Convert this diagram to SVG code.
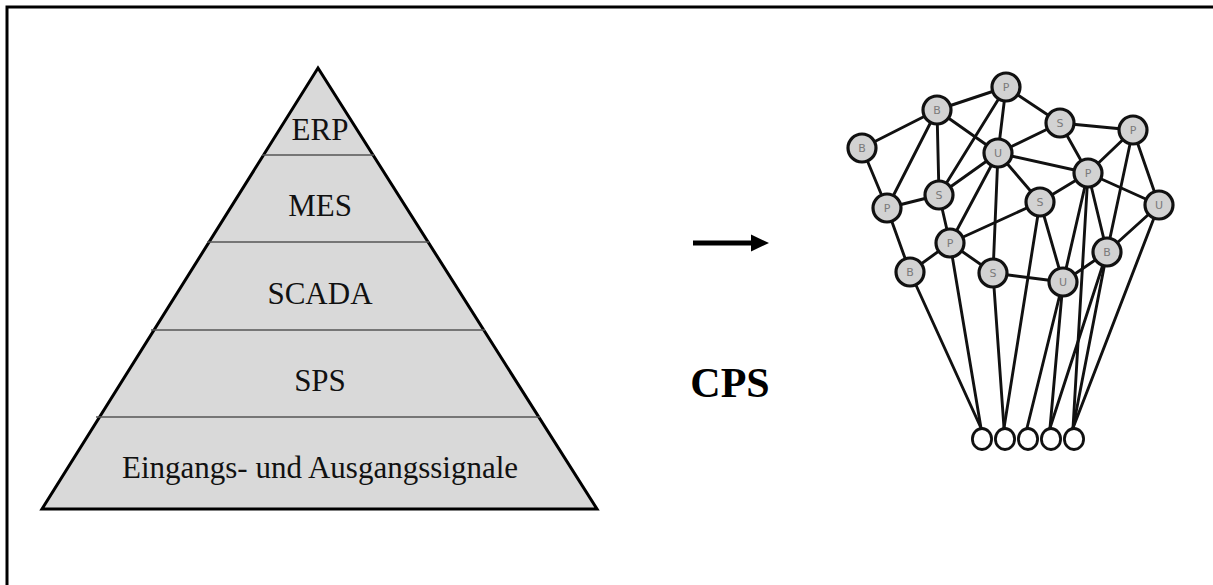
<svg xmlns="http://www.w3.org/2000/svg" width="1213" height="585" viewBox="0 0 1213 585">
  <style>
    .frame { stroke: #000; stroke-width: 3; fill: none; }
    .pyr { fill: #d9d9d9; stroke: #000; stroke-width: 3; stroke-linejoin: miter; }
    .sep { stroke: #555; stroke-width: 1.6; }
    .lvl { font-family: "Liberation Serif", "Times New Roman", serif; font-size: 31px; fill: #111; text-anchor: middle; }
    .cps { font-family: "Liberation Serif", "Times New Roman", serif; font-size: 42px; font-weight: bold; fill: #000; text-anchor: middle; }
    .edge { stroke: #111; stroke-width: 2.9; fill: none; stroke-linecap: round; }
    .node circle { fill: #d2d2d2; stroke: #111; stroke-width: 3.2; }
    .node text { font-family: "DejaVu Sans", "Liberation Sans", sans-serif; font-size: 11px; fill: #7a7a7a; text-anchor: middle; dominant-baseline: central; }
    .io ellipse { fill: #fff; stroke: #111; stroke-width: 2.8; }
  </style>

  <!-- page frame (top and left edges) -->
  <path class="frame" d="M7,585 V7 H1213"/>

  <!-- automation pyramid -->
  <g id="pyramid">
    <polygon class="pyr" points="318,68 597,509 42,509"/>
    <line class="sep" x1="262" y1="155" x2="374" y2="155"/>
    <line class="sep" x1="207" y1="242" x2="429" y2="242"/>
    <line class="sep" x1="151" y1="330" x2="485" y2="330"/>
    <line class="sep" x1="96" y1="417" x2="540" y2="417"/>
    <text id="erp" class="lvl" x="320" y="140">ERP</text>
    <text id="mes" class="lvl" x="320" y="216">MES</text>
    <text id="scada" class="lvl" x="320" y="304">SCADA</text>
    <text id="sps" class="lvl" x="320" y="391">SPS</text>
    <text id="io-signals" class="lvl" x="320" y="478">Eingangs- und Ausgangssignale</text>
  </g>

  <!-- transition arrow and label -->
  <g id="transition">
    <line x1="693" y1="243" x2="755" y2="243" stroke="#000" stroke-width="5"/>
    <polygon points="751,234.5 769,243 751,251.5" fill="#000"/>
    <text class="cps" x="730" y="397">CPS</text>
  </g>

  <!-- network connectors -->
  <g id="connectors">
    <!-- upper mesh -->
    <line class="edge" x1="862" y1="148" x2="937" y2="110"/>
    <line class="edge" x1="937" y1="110" x2="1006" y2="87"/>
    <line class="edge" x1="937" y1="110" x2="998" y2="153"/>
    <line class="edge" x1="937" y1="110" x2="939" y2="195"/>
    <line class="edge" x1="937" y1="110" x2="887" y2="208"/>
    <line class="edge" x1="862" y1="148" x2="887" y2="208"/>
    <line class="edge" x1="1006" y1="87" x2="939" y2="195"/>
    <line class="edge" x1="1006" y1="87" x2="998" y2="153"/>
    <line class="edge" x1="1006" y1="87" x2="1060" y2="123"/>
    <line class="edge" x1="1060" y1="123" x2="1133" y2="130"/>
    <line class="edge" x1="1060" y1="123" x2="998" y2="153"/>
    <line class="edge" x1="1060" y1="123" x2="1088" y2="173"/>
    <line class="edge" x1="998" y1="153" x2="1088" y2="173"/>
    <line class="edge" x1="998" y1="153" x2="939" y2="195"/>
    <line class="edge" x1="998" y1="153" x2="1040" y2="202"/>
    <line class="edge" x1="998" y1="153" x2="950" y2="243"/>
    <line class="edge" x1="998" y1="153" x2="993" y2="273"/>
    <line class="edge" x1="1133" y1="130" x2="1088" y2="173"/>
    <line class="edge" x1="1133" y1="130" x2="1107" y2="252"/>
    <line class="edge" x1="1133" y1="130" x2="1159" y2="205"/>
    <line class="edge" x1="1088" y1="173" x2="1159" y2="205"/>
    <line class="edge" x1="1088" y1="173" x2="1040" y2="202"/>
    <line class="edge" x1="1088" y1="173" x2="1107" y2="252"/>
    <line class="edge" x1="1088" y1="173" x2="1063" y2="282"/>
    <!-- middle mesh -->
    <line class="edge" x1="887" y1="208" x2="939" y2="195"/>
    <line class="edge" x1="887" y1="208" x2="910" y2="272"/>
    <line class="edge" x1="939" y1="195" x2="950" y2="243"/>
    <line class="edge" x1="950" y1="243" x2="910" y2="272"/>
    <line class="edge" x1="950" y1="243" x2="993" y2="273"/>
    <line class="edge" x1="950" y1="243" x2="1040" y2="202"/>
    <line class="edge" x1="1040" y1="202" x2="1063" y2="282"/>
    <line class="edge" x1="993" y1="273" x2="1063" y2="282"/>
    <line class="edge" x1="1063" y1="282" x2="1107" y2="252"/>
    <line class="edge" x1="1159" y1="205" x2="1107" y2="252"/>
    <!-- links down to the field devices -->
    <line class="edge" x1="910" y1="272" x2="981" y2="428"/>
    <line class="edge" x1="950" y1="243" x2="981" y2="428"/>
    <line class="edge" x1="993" y1="273" x2="1004" y2="428"/>
    <line class="edge" x1="1040" y1="202" x2="1004" y2="428"/>
    <line class="edge" x1="1063" y1="282" x2="1027" y2="428"/>
    <line class="edge" x1="1063" y1="282" x2="1050" y2="428"/>
    <line class="edge" x1="1107" y1="252" x2="1050" y2="428"/>
    <line class="edge" x1="1088" y1="173" x2="1073" y2="428"/>
    <line class="edge" x1="1107" y1="252" x2="1073" y2="428"/>
    <line class="edge" x1="1159" y1="205" x2="1073" y2="428"/>
  </g>

  <!-- network nodes -->
  <g id="n-p1" class="node"><circle cx="1006" cy="87" r="14"/><text x="1006" y="87">P</text></g>
  <g id="n-b1" class="node"><circle cx="937" cy="110" r="14"/><text x="937" y="110">B</text></g>
  <g id="n-b2" class="node"><circle cx="862" cy="148" r="14"/><text x="862" y="148">B</text></g>
  <g id="n-s1" class="node"><circle cx="1060" cy="123" r="14"/><text x="1060" y="123">S</text></g>
  <g id="n-p2" class="node"><circle cx="1133" cy="130" r="14"/><text x="1133" y="130">P</text></g>
  <g id="n-u1" class="node"><circle cx="998" cy="153" r="14"/><text x="998" y="153">U</text></g>
  <g id="n-p3" class="node"><circle cx="1088" cy="173" r="14"/><text x="1088" y="173">P</text></g>
  <g id="n-s2" class="node"><circle cx="939" cy="195" r="14"/><text x="939" y="195">S</text></g>
  <g id="n-p4" class="node"><circle cx="887" cy="208" r="14"/><text x="887" y="208">P</text></g>
  <g id="n-s3" class="node"><circle cx="1040" cy="202" r="14"/><text x="1040" y="202">S</text></g>
  <g id="n-u2" class="node"><circle cx="1159" cy="205" r="14"/><text x="1159" y="205">U</text></g>
  <g id="n-p5" class="node"><circle cx="950" cy="243" r="14"/><text x="950" y="243">P</text></g>
  <g id="n-b3" class="node"><circle cx="1107" cy="252" r="14"/><text x="1107" y="252">B</text></g>
  <g id="n-b4" class="node"><circle cx="910" cy="272" r="14"/><text x="910" y="272">B</text></g>
  <g id="n-s4" class="node"><circle cx="993" cy="273" r="14"/><text x="993" y="273">S</text></g>
  <g id="n-u3" class="node"><circle cx="1063" cy="282" r="14"/><text x="1063" y="282">U</text></g>

  <!-- field devices -->
  <g id="io-1" class="io"><ellipse cx="982" cy="439" rx="9.6" ry="10.5"/></g>
  <g id="io-2" class="io"><ellipse cx="1005" cy="439" rx="9.6" ry="10.5"/></g>
  <g id="io-3" class="io"><ellipse cx="1028" cy="439" rx="9.6" ry="10.5"/></g>
  <g id="io-4" class="io"><ellipse cx="1051" cy="439" rx="9.6" ry="10.5"/></g>
  <g id="io-5" class="io"><ellipse cx="1074" cy="439" rx="9.6" ry="10.5"/></g>
</svg>
